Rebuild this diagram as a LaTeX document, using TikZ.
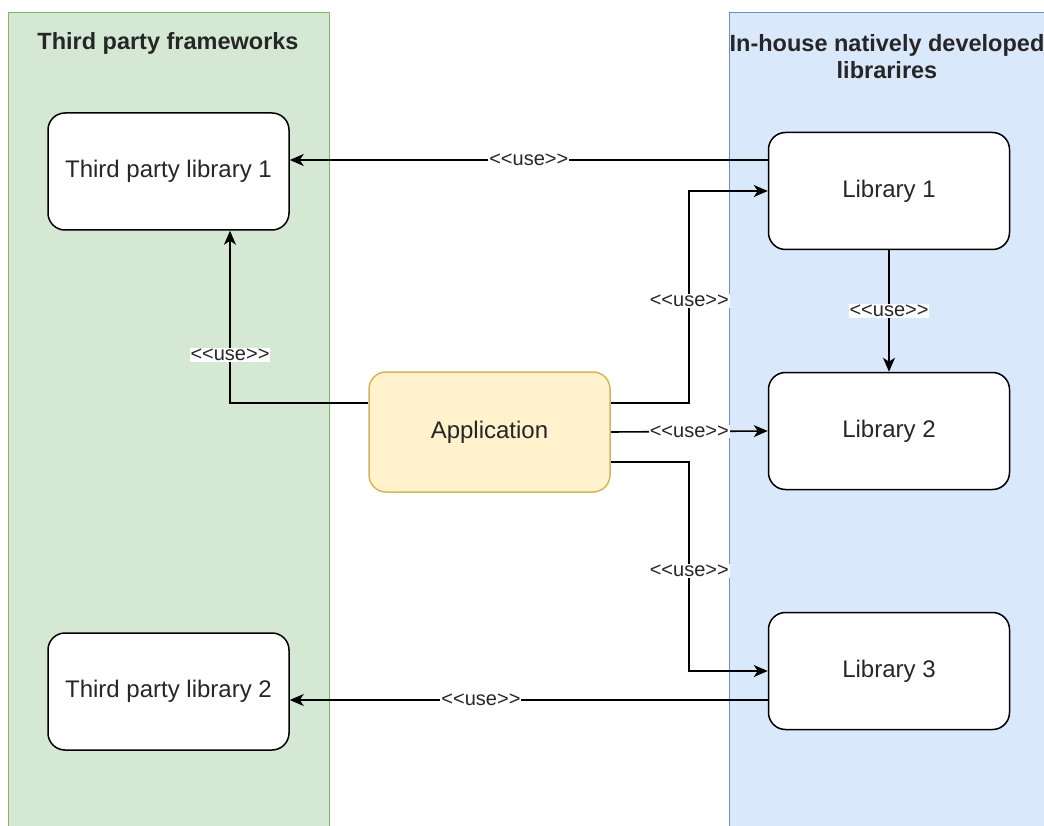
\documentclass[tikz,border=0pt]{standalone}
\usepackage{fontspec}
\setmainfont{Liberation Sans}
\usetikzlibrary{arrows.meta}
\definecolor{greenfill}{HTML}{D5E8D4}
\definecolor{greenline}{HTML}{82B366}
\definecolor{bluefill}{HTML}{DAE8FC}
\definecolor{blueline}{HTML}{6C8EBF}
\definecolor{appfill}{HTML}{FFF2CC}
\definecolor{appline}{HTML}{D6B656}
% stereotype text, kerns keep << and >> apart
\newcommand{\usetag}{<\kern0pt<use>\kern0pt>}

\begin{document}
\begin{tikzpicture}[x=1pt,y=-1pt,
	lane/.style={draw,line width=1pt,anchor=north west,inner sep=0pt},
	lanetitle/.style={align=center,font=\fontsize{23.5}{27}\selectfont\bfseries,text=black!85},
	box/.style={draw,line width=1.5pt,rounded corners=17pt,fill=white,minimum width=241pt,minimum height=117pt,font=\fontsize{24}{28}\selectfont,text=black!85},
	usearrow/.style={draw,line width=1.6pt,-{Stealth[length=14pt,width=12pt,inset=4pt]}},
	uselabel/.style={fill=white,inner sep=1pt,font=\fontsize{20}{24}\selectfont,text=black!85}
	]
	\useasboundingbox (0,0) rectangle (1044,826);
	\clip (0,0) rectangle (1044,826);
	% swimlanes
	\node[lane,fill=greenfill,draw=greenline,minimum width=321pt,minimum height=830pt] (third) at (8,12) {};
	\node[lane,fill=bluefill,draw=blueline,minimum width=320pt,minimum height=830pt] (inhouse) at (729,12) {};
	\node[lanetitle] (thirdtitle) at (168,43) {Third party frameworks};
	\node[lanetitle] (inhousetitle) at (887,57) {In-house natively developed\\librarires};
	% boxes
	\node[box] (tpl1) at (168.5,171.5) {Third party library 1};
	\node[box] (tpl2) at (168.5,691.5) {Third party library 2};
	\node[box] (lib1) at (889,191) {Library 1};
	\node[box] (lib2) at (889,431) {Library 2};
	\node[box] (lib3) at (889,671) {Library 3};
	\node[box,fill=appfill,draw=appline,minimum height=120pt] (app) at (489.5,432) {Application};
	% connectors and labels
	\draw[usearrow] ([yshift=31pt]lib1.west) -- ([yshift=31pt]lib1.west -| tpl1.east) node[pos=.5,uselabel] (use1) {\usetag};
	\draw[usearrow] ([yshift=29pt]app.west) -| node[pos=.64,uselabel] (use2) {\usetag} ([xshift=61.5pt]tpl1.south);
	\draw[usearrow] ([yshift=29pt]app.east) -- ++(78.5,0) |- node[pos=.24,uselabel] (use3) {\usetag} (lib1.west);
	\draw[usearrow] (app.east) -- node[uselabel] (use4) {\usetag} (lib2.west);
	\draw[usearrow] ([yshift=-30pt]app.east) -- ++(78.5,0) |- node[pos=.26,uselabel] (use5) {\usetag} (lib3.west);
	\draw[usearrow] (lib1.south) -- node[uselabel] (use6) {\usetag} (lib2.north);
	\draw[usearrow] ([yshift=-29pt]lib3.west) -- ([yshift=-29pt]lib3.west -| tpl2.east) node[pos=.6,uselabel] (use7) {\usetag};
\end{tikzpicture}
\end{document}
